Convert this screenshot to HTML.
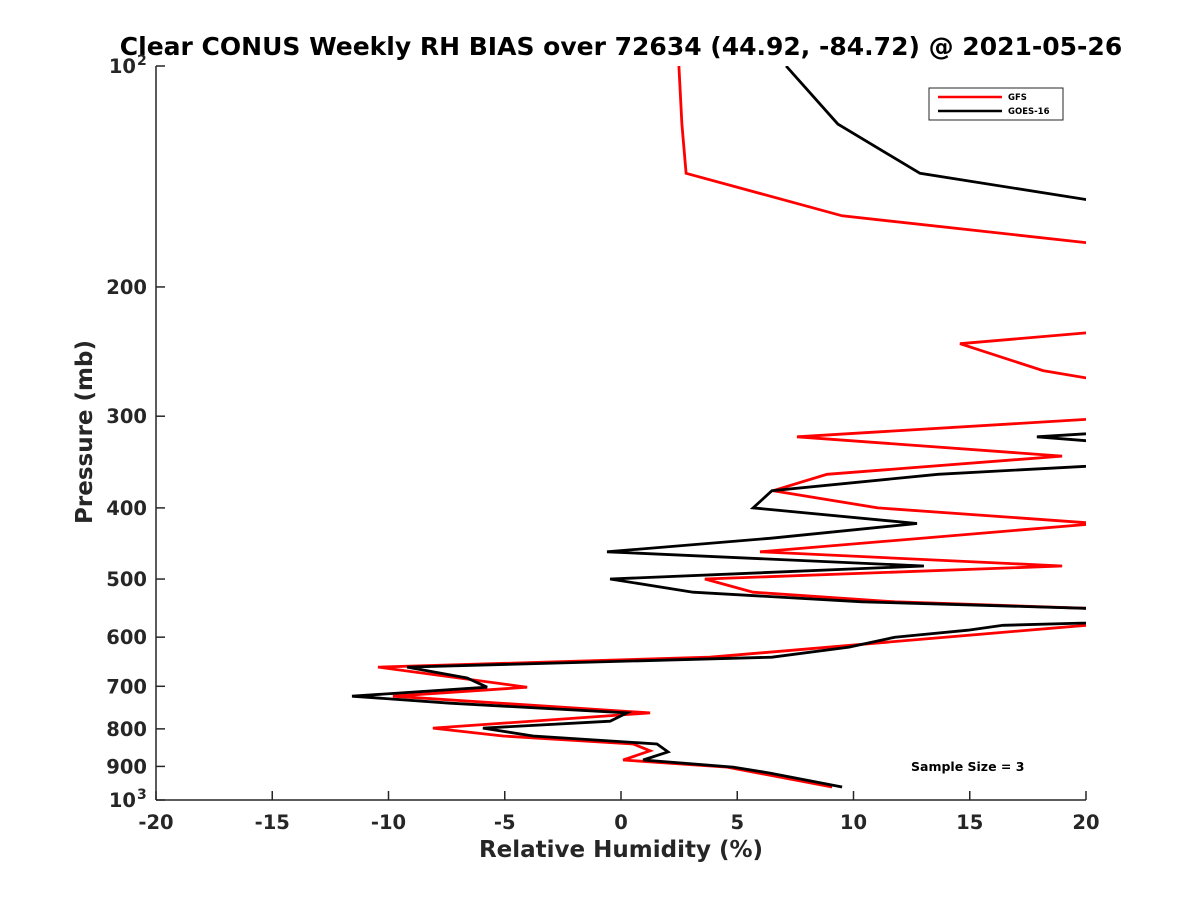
<!DOCTYPE html>
<html><head><meta charset="utf-8"><style>
body{margin:0;background:#fff;}
svg{display:block;font-family:"DejaVu Sans","Liberation Sans",sans-serif;}
</style></head><body>
<svg id="chart" width="1200" height="900" xmlns="http://www.w3.org/2000/svg">
<defs><clipPath id="plotclip"><rect x="156" y="66" width="930" height="734"/></clipPath></defs>
<rect width="1200" height="900" fill="#fff"/>
<text x="621" y="55" text-anchor="middle" font-size="25" font-weight="bold" fill="#000">Clear CONUS Weekly RH BIAS over 72634 (44.92, -84.72) @ 2021-05-26</text>
<g id="axes"></g>
<g id="series" clip-path="url(#plotclip)"></g>
<text x="621" y="857" text-anchor="middle" font-size="23" font-weight="bold" fill="#262626">Relative Humidity (%)</text>
<text transform="translate(92,432) rotate(-90)" text-anchor="middle" font-size="23" font-weight="bold" fill="#262626">Pressure (mb)</text>
<text x="911" y="771" font-size="12.5" font-weight="bold" fill="#000">Sample Size = 3</text>
<g>
<rect x="929" y="88" width="134" height="32" fill="#fff" stroke="#262626" stroke-width="1"/>
<line x1="938" y1="97" x2="1002" y2="97" stroke="#f00" stroke-width="2.5"/>
<text x="1008" y="100" font-size="8.5" font-weight="bold">GFS</text>
<line x1="938" y1="111" x2="1002" y2="111" stroke="#000" stroke-width="2.5"/>
<text x="1008" y="114" font-size="8.5" font-weight="bold">GOES-16</text>
</g>
</svg>
<script>
const xTicks = [-20,-15,-10,-5,0,5,10,15,20];
const yTicks = [100,200,300,400,500,600,700,800,900,1000];
const yTickLabels = ["10|2","200","300","400","500","600","700","800","900","10|3"];
const gfsRH = [2.49,2.62,2.80,9.51,20,26,20,14.58,18.15,20,25,20,7.57,18.97,8.86,6.54,11.05,20.5,5.98,18.97,3.61,5.68,11.78,20,24,20,3.83,-10.45,-4.04,-9.81,1.25,-8.09,-5.08,0.52,1.25,0.09,4.56,9.08];
const gfsP = [100,120,140,160,174,200,231,239,260,266,285,303,320,340,360,379,400,420,459,480,500,521,537,548,560,578,639,659,702,722,761,798,818,839,857,882,902,960];
const goesRH = [7.10,9.33,12.86,20,26,24,20,17.89,20,24,20,13.63,6.49,5.68,12.73,6.41,-0.60,13.03,-0.47,3.10,10.37,20,24,20,16.43,14.92,11.78,9.81,6.49,-9.20,-6.62,-5.76,-11.57,-7.35,0.26,-0.47,-5.94,-3.78,1.55,2.02,0.95,4.82,6.41,9.51];
const goesP = [100,120,140,152,200,280,317,320,324,335,351,360,379,400,420,440,459,480,500,521,537,548,560,574,578,587,600,619,639,659,682,702,722,738,761,781,798,818,839,860,882,902,919,960];

const NS="http://www.w3.org/2000/svg";
const X0=156,X1=1086,Y0=66,Y1=800;
function xs(v){return X0+(v+20)/40*(X1-X0);}
function ys(p){return Y0+(Math.log10(p)-2)*(Y1-Y0);}
function mk(t,a,parent){const e=document.createElementNS(NS,t);for(const k in a)e.setAttribute(k,a[k]);parent.appendChild(e);return e;}
const axes=document.getElementById('axes');
let l=mk('line',{x1:X0,y1:Y0,x2:X0,y2:Y1,stroke:'#262626','stroke-width':1.5},axes);


l=mk('line',{x1:X0,y1:Y1,x2:X1,y2:Y1,stroke:'#262626','stroke-width':1.5},axes);


xTicks.forEach(v=>{
  const x=xs(v);
  const t=mk('line',{x1:x,y1:Y1,x2:x,y2:Y1-9,stroke:'#262626','stroke-width':1.5},axes);
  
  
  const tx=mk('text',{x:x,y:829,'text-anchor':'middle','font-size':19.5,'font-weight':'bold',fill:'#262626'},axes);
  tx.textContent=v;
  
  
});
yTicks.forEach((p,i)=>{
  const y=ys(p);
  const t=mk('line',{x1:X0,y1:y,x2:X0+9,y2:y,stroke:'#262626','stroke-width':1.5},axes);
  
  
  const lab=yTickLabels[i];
  const tx=mk('text',{x:lab.indexOf('|')>=0?136:147,y:y+7,'text-anchor':'end','font-size':19.5,'font-weight':'bold',fill:'#262626'},axes);
  if(lab.indexOf('|')>=0){
    const parts=lab.split('|');
    tx.textContent=parts[0];
    const sup=mk('text',{x:137,y:y-1,'text-anchor':'start','font-size':14,'font-weight':'bold',fill:'#262626'},axes);
    sup.textContent=parts[1];
    
    
  } else tx.textContent=lab;
  
  
});
const series=document.getElementById('series');
function draw(rh,p,color,name){
  const pts=rh.map((v,i)=>xs(v).toFixed(1)+','+ys(p[i]).toFixed(1)).join(' ');
  const pl=mk('polyline',{points:pts,fill:'none',stroke:color,'stroke-width':2.8,'stroke-linejoin':'miter'},series);
  
  
}
draw(gfsRH,gfsP,'#f00','gfs-line');
draw(goesRH,goesP,'#000','goes16-line');
</script>
</body></html>
